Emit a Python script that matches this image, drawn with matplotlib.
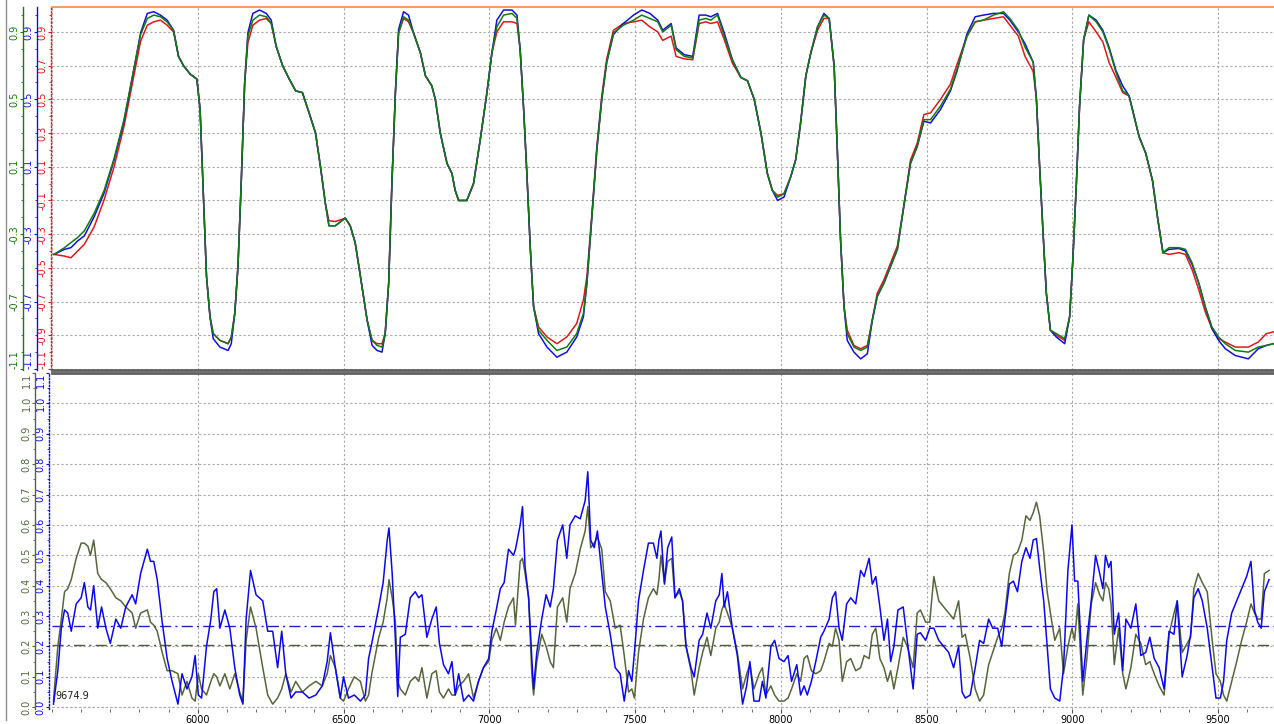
#Two-panel trace plot: three channels on top, two on the bottom
import matplotlib.pyplot as plt
from matplotlib.ticker import MultipleLocator, FixedLocator
from matplotlib.lines import Line2D

# ---- top panel data ----
t_x = [5507, 5543, 5565, 5588, 5611, 5645, 5679, 5713, 5747, 5781, 5804, 5827, 5849, 5872, 5895, 5917,
	5934, 5951, 5974, 5997, 6008, 6019, 6030, 6042, 6053, 6076, 6104, 6115, 6127, 6138, 6149, 6161,
	6172, 6189, 6212, 6235, 6252, 6269, 6291, 6314, 6336, 6359, 6382, 6404, 6421, 6438, 6450, 6472,
	6506, 6523, 6540, 6558, 6581, 6598, 6615, 6632, 6643, 6655, 6666, 6678, 6689, 6706, 6723, 6741,
	6764, 6781, 6803, 6815, 6832, 6855, 6872, 6883, 6895, 6923, 6946, 6969, 6992, 7009, 7026, 7049,
	7078, 7095, 7106, 7118, 7129, 7141, 7152, 7169, 7198, 7232, 7266, 7300, 7323, 7335, 7352, 7369,
	7386, 7403, 7426, 7460, 7495, 7523, 7551, 7578, 7595, 7624, 7641, 7669, 7698, 7720, 7743, 7760,
	7783, 7806, 7834, 7863, 7886, 7909, 7932, 7954, 7971, 7989, 8011, 8034, 8051, 8068, 8086, 8103,
	8126, 8148, 8166, 8183, 8194, 8205, 8217, 8228, 8251, 8274, 8297, 8314, 8331, 8354, 8377, 8400,
	8422, 8445, 8468, 8491, 8514, 8548, 8582, 8605, 8639, 8667, 8695, 8730, 8764, 8786, 8815, 8838,
	8866, 8877, 8888, 8900, 8911, 8925, 8945, 8974, 8991, 9002, 9014, 9025, 9039, 9057, 9082, 9105,
	9127, 9150, 9173, 9195, 9212, 9229, 9252, 9275, 9292, 9311, 9332, 9366, 9388, 9411, 9434, 9456,
	9479, 9502, 9525, 9559, 9604, 9638, 9666, 9690]

top_green = [-0.42, -0.38, -0.35, -0.32, -0.28, -0.175, -0.04, 0.15, 0.38, 0.68, 0.885, 0.98, 1.0, 0.99, 0.96, 0.91,
	0.755, 0.70, 0.65, 0.62, 0.44, -0.06, -0.55, -0.79, -0.89, -0.93, -0.95, -0.91, -0.77, -0.49, 0.0, 0.6,
	0.875, 0.97, 1.0, 0.99, 0.95, 0.815, 0.70, 0.62, 0.55, 0.54, 0.42, 0.30, 0.10, -0.12, -0.25, -0.25,
	-0.205, -0.25, -0.35, -0.55, -0.81, -0.93, -0.96, -0.97, -0.89, -0.59, 0.0, 0.54, 0.895, 0.99, 0.97, 0.89,
	0.775, 0.64, 0.58, 0.50, 0.30, 0.12, 0.06, -0.04, -0.10, -0.10, 0.0, 0.26, 0.54, 0.775, 0.93, 1.0,
	1.01, 0.98, 0.795, 0.44, 0.06, -0.39, -0.73, -0.87, -0.93, -0.99, -0.97, -0.89, -0.77, -0.59, -0.20, 0.20,
	0.50, 0.72, 0.895, 0.94, 0.97, 1.0, 0.98, 0.96, 0.90, 0.94, 0.795, 0.755, 0.745, 0.97, 0.98, 0.97,
	1.0, 0.875, 0.735, 0.63, 0.61, 0.50, 0.30, 0.06, -0.04, -0.08, -0.06, 0.04, 0.14, 0.36, 0.64, 0.775,
	0.93, 1.0, 0.98, 0.70, 0.20, -0.33, -0.73, -0.89, -0.97, -0.99, -0.97, -0.81, -0.67, -0.59, -0.49, -0.39,
	-0.135, 0.12, 0.22, 0.38, 0.38, 0.46, 0.56, 0.68, 0.875, 0.96, 0.97, 1.0, 1.02, 0.98, 0.91, 0.81,
	0.72, 0.50, 0.10, -0.30, -0.65, -0.87, -0.89, -0.92, -0.79, -0.45, 0.0, 0.46, 0.855, 1.0, 0.96, 0.90,
	0.795, 0.66, 0.55, 0.52, 0.40, 0.28, 0.18, 0.02, -0.195, -0.41, -0.38, -0.38, -0.39, -0.47, -0.59, -0.73,
	-0.85, -0.91, -0.95, -0.99, -1.0, -0.97, -0.96, -0.95]

top_blue = [-0.42, -0.39, -0.38, -0.34, -0.31, -0.195, -0.055, 0.14, 0.37, 0.68, 0.895, 1.01, 1.02, 1.0, 0.97, 0.91,
	0.755, 0.70, 0.65, 0.62, 0.44, -0.06, -0.55, -0.79, -0.92, -0.97, -0.99, -0.95, -0.77, -0.49, 0.0, 0.6,
	0.895, 1.01, 1.03, 1.01, 0.97, 0.815, 0.70, 0.62, 0.55, 0.54, 0.42, 0.30, 0.10, -0.12, -0.25, -0.25,
	-0.205, -0.25, -0.35, -0.55, -0.81, -0.96, -0.99, -1.0, -0.89, -0.59, 0.0, 0.54, 0.915, 1.02, 1.0, 0.89,
	0.775, 0.64, 0.58, 0.50, 0.30, 0.12, 0.06, -0.04, -0.10, -0.10, 0.0, 0.26, 0.54, 0.775, 0.97, 1.03,
	1.03, 1.0, 0.795, 0.44, 0.06, -0.39, -0.73, -0.89, -0.97, -1.03, -1.0, -0.91, -0.79, -0.59, -0.20, 0.20,
	0.50, 0.72, 0.885, 0.95, 1.0, 1.03, 1.01, 0.97, 0.91, 0.95, 0.805, 0.765, 0.755, 1.0, 1.0, 0.99,
	1.01, 0.895, 0.735, 0.63, 0.61, 0.50, 0.30, 0.06, -0.04, -0.10, -0.08, 0.04, 0.14, 0.36, 0.64, 0.775,
	0.93, 1.01, 0.98, 0.70, 0.20, -0.33, -0.73, -0.93, -1.0, -1.04, -1.01, -0.81, -0.67, -0.59, -0.49, -0.39,
	-0.135, 0.12, 0.22, 0.37, 0.36, 0.44, 0.55, 0.67, 0.89, 0.99, 1.0, 1.01, 1.01, 0.97, 0.90, 0.83,
	0.72, 0.50, 0.10, -0.30, -0.65, -0.87, -0.91, -0.95, -0.79, -0.45, 0.0, 0.46, 0.855, 1.0, 0.97, 0.91,
	0.805, 0.67, 0.58, 0.52, 0.40, 0.28, 0.18, 0.02, -0.195, -0.41, -0.39, -0.385, -0.40, -0.48, -0.59, -0.73,
	-0.86, -0.93, -0.98, -1.02, -1.04, -0.98, -0.96, -0.95]

top_red = [-0.42, -0.43, -0.44, -0.40, -0.36, -0.255, -0.095, 0.10, 0.34, 0.64, 0.845, 0.94, 0.96, 0.97, 0.94, 0.90,
	0.755, 0.70, 0.65, 0.62, 0.44, -0.06, -0.55, -0.79, -0.89, -0.93, -0.95, -0.91, -0.77, -0.49, 0.0, 0.6,
	0.835, 0.94, 0.97, 0.98, 0.95, 0.815, 0.70, 0.62, 0.55, 0.54, 0.42, 0.30, 0.10, -0.12, -0.22, -0.225,
	-0.205, -0.25, -0.35, -0.55, -0.81, -0.93, -0.95, -0.95, -0.89, -0.59, 0.0, 0.54, 0.895, 0.98, 0.96, 0.89,
	0.775, 0.64, 0.58, 0.50, 0.30, 0.12, 0.06, -0.04, -0.10, -0.10, 0.0, 0.26, 0.54, 0.775, 0.90, 0.96,
	0.96, 0.95, 0.795, 0.44, 0.06, -0.39, -0.73, -0.85, -0.91, -0.95, -0.91, -0.83, -0.69, -0.55, -0.18, 0.22,
	0.52, 0.74, 0.91, 0.95, 0.96, 0.97, 0.93, 0.90, 0.85, 0.875, 0.755, 0.74, 0.735, 0.95, 0.96, 0.95,
	0.96, 0.855, 0.715, 0.63, 0.61, 0.50, 0.30, 0.06, -0.04, -0.07, -0.06, 0.04, 0.14, 0.36, 0.64, 0.775,
	0.91, 0.98, 0.98, 0.70, 0.20, -0.33, -0.73, -0.87, -0.96, -0.98, -0.96, -0.81, -0.65, -0.57, -0.47, -0.37,
	-0.135, 0.14, 0.24, 0.41, 0.42, 0.50, 0.59, 0.71, 0.875, 0.96, 0.97, 0.98, 0.99, 0.94, 0.875, 0.755,
	0.665, 0.50, 0.10, -0.30, -0.65, -0.87, -0.90, -0.93, -0.79, -0.45, 0.0, 0.46, 0.855, 0.96, 0.90, 0.84,
	0.715, 0.63, 0.54, 0.52, 0.40, 0.28, 0.18, 0.02, -0.195, -0.41, -0.42, -0.41, -0.42, -0.51, -0.63, -0.76,
	-0.86, -0.92, -0.94, -0.97, -0.97, -0.94, -0.89, -0.88]

# ---- bottom panel data ----
b_x = [5505, 5520, 5532, 5543, 5554, 5566, 5583, 5600, 5611, 5623, 5632, 5643, 5657, 5670, 5685, 5700,
	5719, 5736, 5753, 5775, 5787, 5804, 5827, 5838, 5849, 5861, 5878, 5895, 5912, 5932, 5946, 5963,
	5980, 5991, 6002, 6013, 6030, 6045, 6055, 6065, 6076, 6093, 6110, 6127, 6144, 6155, 6166, 6181,
	6200, 6223, 6240, 6257, 6274, 6288, 6302, 6320, 6336, 6359, 6382, 6405, 6427, 6444, 6455, 6472,
	6489, 6500, 6517, 6537, 6558, 6575, 6586, 6597, 6609, 6621, 6636, 6650, 6656, 6667, 6678, 6686,
	6695, 6712, 6729, 6746, 6758, 6769, 6786, 6803, 6818, 6829, 6843, 6860, 6872, 6883, 6895, 6912,
	6929, 6946, 6963, 6980, 6998, 7009, 7024, 7038, 7051, 7066, 7083, 7090, 7106, 7114, 7123, 7135,
	7146, 7152, 7163, 7180, 7195, 7209, 7220, 7234, 7252, 7266, 7277, 7295, 7312, 7329, 7338, 7348,
	7360, 7371, 7386, 7398, 7415, 7432, 7449, 7463, 7478, 7489, 7498, 7512, 7529, 7546, 7563, 7575,
	7582, 7589, 7601, 7612, 7626, 7637, 7652, 7663, 7675, 7692, 7703, 7720, 7732, 7747, 7760, 7777,
	7789, 7798, 7806, 7817, 7834, 7851, 7869, 7883, 7894, 7908, 7926, 7937, 7949, 7966, 7979, 7994,
	8011, 8025, 8037, 8055, 8068, 8080, 8091, 8105, 8120, 8137, 8148, 8166, 8177, 8188, 8200, 8211,
	8226, 8240, 8257, 8274, 8286, 8303, 8314, 8326, 8340, 8354, 8366, 8377, 8388, 8402, 8420, 8434,
	8454, 8468, 8479, 8497, 8511, 8525, 8542, 8559, 8576, 8593, 8610, 8622, 8633, 8650, 8667, 8682,
	8696, 8713, 8727, 8744, 8758, 8769, 8784, 8798, 8812, 8827, 8841, 8855, 8866, 8877, 8888, 8902,
	8914, 8925, 8940, 8957, 8970, 8985, 8999, 9008, 9019, 9036, 9050, 9065, 9080, 9094, 9105, 9114,
	9125, 9133, 9144, 9159, 9173, 9184, 9201, 9218, 9235, 9252, 9266, 9281, 9298, 9315, 9332, 9349,
	9360, 9377, 9394, 9406, 9417, 9432, 9446, 9463, 9480, 9493, 9508, 9519, 9530, 9547, 9564, 9581,
	9598, 9613, 9625, 9636, 9648, 9659, 9675]

bot_blue = [0.01, 0.12, 0.26, 0.32, 0.31, 0.25, 0.34, 0.36, 0.41, 0.33, 0.32, 0.40, 0.26, 0.33, 0.26, 0.21,
	0.29, 0.26, 0.33, 0.37, 0.34, 0.44, 0.52, 0.48, 0.48, 0.42, 0.28, 0.16, 0.085, 0.01, 0.11, 0.06,
	0.10, 0.17, 0.04, 0.03, 0.20, 0.29, 0.38, 0.39, 0.26, 0.32, 0.26, 0.13, 0.04, 0.01, 0.29, 0.45,
	0.37, 0.35, 0.25, 0.25, 0.13, 0.25, 0.11, 0.03, 0.05, 0.05, 0.03, 0.04, 0.07, 0.15, 0.245, 0.13,
	0.03, 0.10, 0.03, 0.04, 0.02, 0.04, 0.16, 0.21, 0.27, 0.33, 0.41, 0.55, 0.59, 0.44, 0.22, 0.035,
	0.23, 0.24, 0.36, 0.38, 0.36, 0.37, 0.23, 0.29, 0.33, 0.21, 0.14, 0.11, 0.15, 0.04, 0.11, 0.02,
	0.04, 0.02, 0.085, 0.13, 0.16, 0.25, 0.32, 0.39, 0.41, 0.52, 0.50, 0.52, 0.60, 0.66, 0.46, 0.36,
	0.16, 0.06, 0.18, 0.29, 0.37, 0.33, 0.39, 0.55, 0.60, 0.49, 0.60, 0.63, 0.62, 0.68, 0.775, 0.55,
	0.525, 0.58, 0.44, 0.33, 0.24, 0.13, 0.11, 0.02, 0.12, 0.085, 0.18, 0.35, 0.45, 0.54, 0.54, 0.49,
	0.55, 0.58, 0.405, 0.525, 0.56, 0.36, 0.39, 0.35, 0.20, 0.13, 0.10, 0.22, 0.24, 0.31, 0.26, 0.35,
	0.37, 0.44, 0.33, 0.38, 0.26, 0.17, 0.01, 0.07, 0.15, 0.02, 0.02, 0.085, 0.03, 0.20, 0.22, 0.16,
	0.15, 0.17, 0.085, 0.14, 0.04, 0.07, 0.04, 0.085, 0.15, 0.23, 0.25, 0.29, 0.36, 0.38, 0.26, 0.22,
	0.34, 0.36, 0.34, 0.45, 0.43, 0.49, 0.405, 0.43, 0.33, 0.22, 0.29, 0.15, 0.20, 0.32, 0.33, 0.22,
	0.06, 0.24, 0.245, 0.22, 0.26, 0.26, 0.22, 0.20, 0.18, 0.13, 0.20, 0.05, 0.03, 0.04, 0.13, 0.22,
	0.21, 0.29, 0.26, 0.26, 0.20, 0.29, 0.405, 0.415, 0.38, 0.48, 0.525, 0.49, 0.55, 0.555, 0.46, 0.35,
	0.20, 0.06, 0.03, 0.02, 0.13, 0.45, 0.60, 0.415, 0.415, 0.085, 0.22, 0.35, 0.50, 0.44, 0.39, 0.50,
	0.46, 0.48, 0.24, 0.31, 0.12, 0.29, 0.26, 0.34, 0.17, 0.18, 0.23, 0.16, 0.13, 0.06, 0.25, 0.24,
	0.35, 0.10, 0.17, 0.24, 0.36, 0.39, 0.35, 0.26, 0.13, 0.03, 0.03, 0.085, 0.22, 0.31, 0.35, 0.39,
	0.43, 0.48, 0.32, 0.28, 0.26, 0.38, 0.42]

bot_olive = [0.02, 0.20, 0.29, 0.38, 0.39, 0.42, 0.49, 0.54, 0.54, 0.53, 0.50, 0.55, 0.44, 0.42, 0.41, 0.39,
	0.36, 0.35, 0.33, 0.31, 0.26, 0.31, 0.32, 0.28, 0.27, 0.25, 0.18, 0.12, 0.12, 0.11, 0.04, 0.085,
	0.03, 0.02, 0.11, 0.06, 0.04, 0.085, 0.11, 0.10, 0.07, 0.11, 0.06, 0.11, 0.05, 0.02, 0.22, 0.33,
	0.26, 0.13, 0.04, 0.01, 0.03, 0.06, 0.11, 0.05, 0.085, 0.05, 0.07, 0.085, 0.07, 0.11, 0.17, 0.13,
	0.03, 0.02, 0.06, 0.10, 0.085, 0.02, 0.04, 0.11, 0.17, 0.23, 0.28, 0.36, 0.42, 0.36, 0.28, 0.085,
	0.06, 0.04, 0.085, 0.10, 0.085, 0.13, 0.03, 0.11, 0.12, 0.05, 0.03, 0.06, 0.04, 0.04, 0.07, 0.085,
	0.11, 0.03, 0.085, 0.13, 0.15, 0.22, 0.26, 0.22, 0.28, 0.33, 0.36, 0.27, 0.48, 0.49, 0.44, 0.36,
	0.11, 0.04, 0.15, 0.24, 0.20, 0.15, 0.13, 0.33, 0.36, 0.28, 0.39, 0.44, 0.52, 0.58, 0.66, 0.525,
	0.54, 0.56, 0.52, 0.38, 0.35, 0.26, 0.27, 0.17, 0.05, 0.06, 0.03, 0.18, 0.29, 0.36, 0.39, 0.37,
	0.42, 0.50, 0.41, 0.48, 0.49, 0.36, 0.38, 0.35, 0.20, 0.12, 0.04, 0.13, 0.18, 0.23, 0.17, 0.26,
	0.28, 0.32, 0.34, 0.31, 0.26, 0.18, 0.06, 0.11, 0.14, 0.06, 0.11, 0.13, 0.04, 0.07, 0.04, 0.02,
	0.02, 0.03, 0.06, 0.11, 0.085, 0.16, 0.17, 0.12, 0.11, 0.12, 0.15, 0.21, 0.20, 0.26, 0.22, 0.085,
	0.15, 0.16, 0.12, 0.13, 0.17, 0.16, 0.24, 0.26, 0.16, 0.13, 0.085, 0.12, 0.06, 0.13, 0.23, 0.20,
	0.13, 0.31, 0.32, 0.28, 0.28, 0.43, 0.35, 0.33, 0.31, 0.29, 0.35, 0.23, 0.24, 0.16, 0.06, 0.02,
	0.04, 0.14, 0.18, 0.23, 0.26, 0.31, 0.44, 0.50, 0.51, 0.55, 0.63, 0.615, 0.64, 0.675, 0.63, 0.51,
	0.38, 0.31, 0.22, 0.26, 0.11, 0.20, 0.26, 0.22, 0.34, 0.04, 0.16, 0.34, 0.41, 0.37, 0.35, 0.41,
	0.39, 0.34, 0.14, 0.26, 0.11, 0.06, 0.13, 0.24, 0.21, 0.14, 0.15, 0.11, 0.07, 0.04, 0.24, 0.31,
	0.35, 0.18, 0.21, 0.23, 0.39, 0.44, 0.41, 0.38, 0.22, 0.11, 0.085, 0.04, 0.02, 0.085, 0.15, 0.22,
	0.28, 0.34, 0.31, 0.29, 0.29, 0.44, 0.45]

mean_blue = 0.268
mean_olive = 0.205
cursor_text = '9674.9'

x_lo, x_hi = 5500, 9692

c_green = '#137a13'
c_blue = '#1010e0'
c_red = '#e01818'
c_olive = '#56663a'
c_blue2 = '#0a0ae8'
c_grid = '#a8a8a8'

plt.rcParams['font.family'] = ['DejaVu Sans']

fig = plt.figure(figsize=(12.74, 7.24), dpi=100)
W, H = 1274.0, 724.0

def setup_left_axis(a, color, offset, ticks, minor, edge_va, dotted=False):
	a.spines['left'].set_position(('outward', offset))
	a.spines['left'].set_color(color)
	a.spines['left'].set_linewidth(1.0)
	if dotted:
		a.spines['left'].set_linestyle((0, (1, 1.5)))
	a.yaxis.set_ticks_position('left')
	a.yaxis.set_major_locator(FixedLocator(ticks))
	a.yaxis.set_minor_locator(MultipleLocator(minor))
	a.set_yticks(ticks)
	a.set_yticklabels(['%.1f' % v for v in ticks])
	a.tick_params(axis='y', which='major', colors=color, labelsize=7, length=2.5, pad=0, labelrotation=90)
	a.tick_params(axis='y', which='minor', colors=color, length=1.5)
	labs = a.get_yticklabels()
	for lab in labs:
		lab.set_va('center')
	# keep the end label inside its own panel
	if edge_va == 'bottom':
		labs[0].set_va('bottom')
	else:
		labs[-1].set_va('top')

# ---------------- top panel ----------------
ax1 = fig.add_axes([52/W, (H-370)/H, 1222/W, 363/H])
ax1.plot(t_x, top_red, color=c_red, lw=1.1, zorder=3)
ax1.plot(t_x, top_blue, color=c_blue, lw=1.1, zorder=4)
ax1.plot(t_x, top_green, color=c_green, lw=1.1, zorder=5)
ax1.set_xlim(x_lo, x_hi)
ax1.set_ylim(-1.106, 1.048)

red_ticks = [-1.1, -0.9, -0.7, -0.5, -0.3, -0.1, 0.1, 0.3, 0.5, 0.7, 0.9]
gb_ticks = [-1.1, -0.7, -0.3, 0.1, 0.5, 0.9]

ax1.spines['right'].set_visible(False)
ax1.spines['top'].set_color('#f08a4b')
ax1.spines['top'].set_linewidth(1.2)
ax1.spines['bottom'].set_color('#606060')
ax1.spines['bottom'].set_linewidth(2.0)
setup_left_axis(ax1, c_red, 1, red_ticks, 0.1, 'bottom', dotted=True)
ax1.xaxis.set_major_locator(MultipleLocator(500))
ax1.tick_params(axis='x', which='both', length=0, labelbottom=False)
ax1.grid(True, which='major', color=c_grid, linestyle=(0, (2, 2)), linewidth=0.8)
ax1.set_axisbelow(True)

for color, off in [(c_blue, 11), (c_green, 21)]:
	tw = ax1.twinx()
	tw.set_ylim(ax1.get_ylim())
	for s in ['right', 'top', 'bottom']:
		tw.spines[s].set_visible(False)
	tw.spines['left'].set_visible(True)
	setup_left_axis(tw, color, off, gb_ticks, 0.1, 'bottom')
	tw.yaxis.set_label_position('left')

# ---------------- bottom panel ----------------
ax2 = fig.add_axes([52/W, 15/H, 1222/W, 336/H])
ax2.plot(b_x, bot_olive, color=c_olive, lw=1.1, zorder=3)
ax2.plot(b_x, bot_blue, color=c_blue2, lw=1.1, zorder=4)
ax2.axhline(mean_blue, color='#2020c0', lw=1.0, linestyle=(0, (8, 3, 1.5, 3)), zorder=2)
ax2.axhline(mean_olive, color='#505a40', lw=1.0, linestyle=(0, (8, 3, 1.5, 3)), zorder=2)
ax2.set_xlim(x_lo, x_hi)
ax2.set_ylim(-0.006, 1.1)

bot_ticks = [0.0, 0.1, 0.2, 0.3, 0.4, 0.5, 0.6, 0.7, 0.8, 0.9, 1.0, 1.1]
ax2.spines['right'].set_visible(False)
ax2.spines['bottom'].set_visible(False)
ax2.spines['top'].set_color('#606060')
ax2.spines['top'].set_linewidth(2.0)
setup_left_axis(ax2, c_blue2, 2, bot_ticks, 0.05, 'top', dotted=True)

ax2.xaxis.set_minor_locator(MultipleLocator(100))
ax2.set_xticks([6000, 6500, 7000, 7500, 8000, 8500, 9000, 9500])
ax2.tick_params(axis='x', which='major', labelsize=7, length=3, pad=1, color='#505050')
ax2.tick_params(axis='x', which='minor', length=2, color='#505050')
ax2.grid(True, which='major', color=c_grid, linestyle=(0, (2, 2)), linewidth=0.8)
ax2.axhline(0.0, color=c_grid, linestyle=(0, (2, 2)), linewidth=0.8, zorder=1)

tw2 = ax2.twinx()
tw2.set_ylim(ax2.get_ylim())
for s in ['right', 'top', 'bottom']:
	tw2.spines[s].set_visible(False)
tw2.spines['left'].set_visible(True)
setup_left_axis(tw2, c_olive, 12, bot_ticks, 0.05, 'top')
tw2.yaxis.set_label_position('left')

ax2.text(0.003, 0.03, cursor_text, transform=ax2.transAxes, fontsize=7, color='#202020', zorder=6)

# left frame line
fig.add_artist(Line2D([6/W, 6/W], [0.005, 1.0], color='#909090', lw=1.0))

plt.savefig('out.png', dpi=100)
plt.close()
